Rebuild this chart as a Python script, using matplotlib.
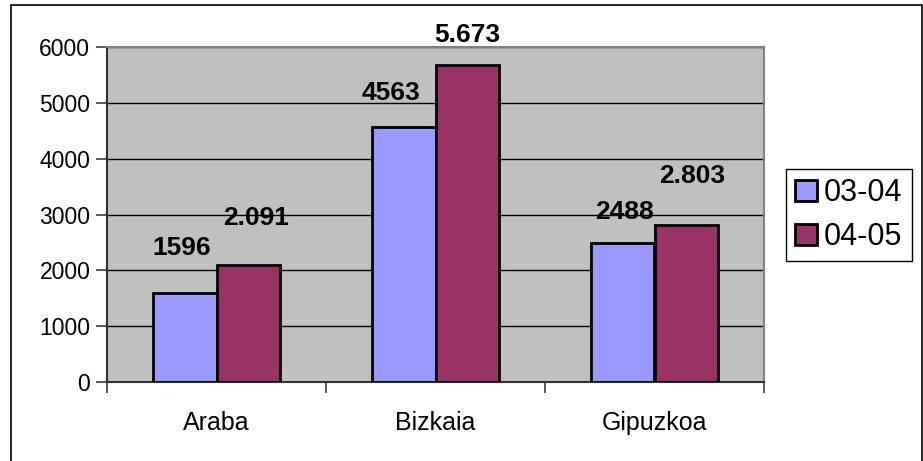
import matplotlib.pyplot as plt
import matplotlib.patches as mpatches
import numpy as np

plt.rcParams["font.family"] = ["Liberation Sans", "DejaVu Sans"]

# Data
categories = ["Araba", "Bizkaia", "Gipuzkoa"]
series_names = ["03-04", "04-05"]
values_0304 = [1596, 4563, 2488]
values_0405 = [2091, 5673, 2803]
labels_0304 = ["1596", "4563", "2488"]
labels_0405 = ["2.091", "5.673", "2.803"]

COLORS = ["#9999FF", "#993366"]

# label offsets from the bar top, in pixels (Excel placed them a bit unevenly)
offs_0304 = [(-3, 45), (-13, 34), (2, 31)]
offs_0405 = [(8, 47), (0, 30), (6, 49)]

fig = plt.figure(figsize=(9.23, 4.61), dpi=100)
ax = fig.add_axes([107 / 923, 1 - 382 / 461, 657 / 923, 335 / 461])

x = np.arange(len(categories))
w = 0.289
bars1 = ax.bar(x - w / 2, values_0304, w, color=COLORS[0], edgecolor="black", linewidth=2, zorder=3)
bars2 = ax.bar(x + w / 2, values_0405, w, color=COLORS[1], edgecolor="black", linewidth=2, zorder=3)

for bars, labels, offs in [(bars1, labels_0304, offs_0304), (bars2, labels_0405, offs_0405)]:
    for b, lab, (dx, dy) in zip(bars, labels, offs):
        ax.annotate(lab, (b.get_x() + b.get_width() / 2, b.get_height()),
                    xytext=(dx, dy), textcoords="offset pixels",
                    ha="center", va="center", fontsize=19, fontweight="bold", zorder=4)

ax.set_facecolor("#C0C0C0")
ax.set_xlim(-0.5, len(categories) - 0.5)
ax.set_ylim(0, 6000)
ax.set_yticks(np.arange(0, 6001, 1000))
ax.yaxis.grid(True, color="black", linewidth=1, zorder=1)
ax.set_axisbelow(True)

ax.set_xticks(x)
ax.set_xticklabels(categories, fontsize=18)
ax.tick_params(axis="x", length=0, pad=21)
ax.set_xticks(np.arange(-0.5, len(categories), 1), minor=True)
ax.tick_params(axis="x", which="minor", length=8, width=1.2, color="#404040")
ax.tick_params(axis="y", labelsize=16.5, length=8, width=1.2, color="#404040", pad=4)

for side in ["top", "right"]:
    ax.spines[side].set_color("#808080")
    ax.spines[side].set_linewidth(1.5)
for side in ["left", "bottom"]:
    ax.spines[side].set_color("#303030")
    ax.spines[side].set_linewidth(1.5)

handles = [mpatches.Patch(facecolor=c, edgecolor="black", linewidth=2) for c in COLORS]
leg = fig.legend(handles, series_names, loc="upper left",
                 bbox_to_anchor=(786 / 923, 1 - 169 / 461), fontsize=22,
                 fancybox=False, framealpha=1, edgecolor="black",
                 handlelength=0.7, handleheight=0.7, handletextpad=0.25,
                 labelspacing=0.45, borderpad=0.3, borderaxespad=0)
leg.get_frame().set_linewidth(1)

# outer chart border (bottom edge falls outside the picture)
fig.patches.append(mpatches.Rectangle((11 / 923, -0.1), 911 / 923, 1.1 - 5 / 461,
                                      transform=fig.transFigure, fill=False,
                                      edgecolor="black", linewidth=1.2))

fig.savefig("out.png", dpi=100)
